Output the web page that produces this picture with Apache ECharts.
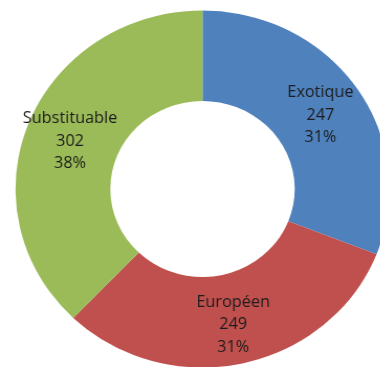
<!DOCTYPE html>
<html>
<head>
<meta charset="utf-8">
<script src="https://cdn.jsdelivr.net/npm/echarts@6/dist/echarts.min.js"></script>
<style>
  html, body { margin: 0; padding: 0; background: #ffffff; overflow: hidden; }
  #wrap { width: 380px; height: 367px; overflow: hidden; position: relative; }
  /* the donut is drawn slightly wider than tall */
  #chart { width: 362.7px; height: 367px; transform: scaleX(1.0476); transform-origin: 0 0; }
</style>
</head>
<body>
<div id="wrap"><div id="chart"></div></div>
<script>
const categories = ['Exotique', 'Européen', 'Substituable'];
const values = [247, 249, 302];
const colors = ['#4F81BD', '#C0504D', '#9BBB59'];

const chart = echarts.init(document.getElementById('chart'), null, { renderer: 'canvas' });
chart.setOption({
  animation: false,
  series: [{
    type: 'pie',
    center: [193.3, 189],
    radius: [88, 178.5],
    startAngle: 90,
    clockwise: true,
    silent: true,
    percentPrecision: 0,
    itemStyle: { borderWidth: 0 },
    label: {
      show: true,
      position: 'inside',
      formatter: '{b}\n{c}\n{d}%',
      fontFamily: '"Open Sans", sans-serif',
      fontSize: 15.5,
      lineHeight: 22.5,
      offset: [0, 3],
      color: '#1c1c1c'
    },
    labelLine: { show: false },
    data: categories.map((name, i) => ({
      name: name,
      value: values[i],
      itemStyle: { color: colors[i] }
    }))
  }]
});
</script>
</body>
</html>
